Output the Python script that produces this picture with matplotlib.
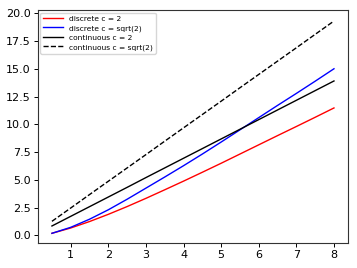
import matplotlib
matplotlib.use("Agg")
import matplotlib.pyplot as plt

x = [0.5, 1.0, 1.5, 2.0, 2.5, 3.0, 3.5, 4.0, 4.5, 5.0, 5.5, 6.0, 6.5, 7.0, 7.5, 8.0]
discrete_c2 = [0.18, 0.66, 1.24, 1.89, 2.59, 3.33, 4.10, 4.88, 5.68, 6.49, 7.32, 8.15, 8.98, 9.80, 10.63, 11.47]
discrete_sqrt2 = [0.18, 0.72, 1.45, 2.3, 3.25, 4.25, 5.25, 6.27, 7.32, 8.4, 9.5, 10.6, 11.7, 12.78, 13.88, 15.0]
continuous_c2 = [0.84, 1.71, 2.58, 3.45, 4.32, 5.20, 6.07, 6.94, 7.81, 8.68, 9.55, 10.42, 11.29, 12.16, 13.03, 13.90]
continuous_sqrt2 = [1.26, 2.46, 3.67, 4.87, 6.07, 7.27, 8.48, 9.68, 10.88, 12.08, 13.29, 14.49, 15.69, 16.89, 18.10, 19.30]
labels = ["discrete c = 2", "discrete c = sqrt(2)", "continuous c = 2", "continuous c = sqrt(2)"]

fig = plt.figure(figsize=(3.57, 2.68), dpi=100)
ax = fig.add_axes([0.106, 0.093, 0.869, 0.870])
lw = 1.0
ax.plot(x, discrete_c2, color="red", lw=lw, label=labels[0])
ax.plot(x, discrete_sqrt2, color="blue", lw=lw, label=labels[1])
ax.plot(x, continuous_c2, color="black", lw=lw, label=labels[2])
ax.plot(x, continuous_sqrt2, color="black", lw=lw, ls="--", label=labels[3])

ax.set_xticks([1, 2, 3, 4, 5, 6, 7, 8])
ax.set_yticks([0.0, 2.5, 5.0, 7.5, 10.0, 12.5, 15.0, 17.5, 20.0])
ax.tick_params(labelsize=8, length=3, width=0.7, pad=2)
for s in ax.spines.values():
    s.set_linewidth(0.8)
    s.set_color("#333333")
ax.set_xlim(0.125, 8.375)
ax.set_ylim(-0.7, 20.3)
ax.legend(loc="upper left", fontsize=5.4, handlelength=2.6, frameon=True,
          borderaxespad=0.35, labelspacing=0.4)
fig.savefig("out.png", dpi=100)
